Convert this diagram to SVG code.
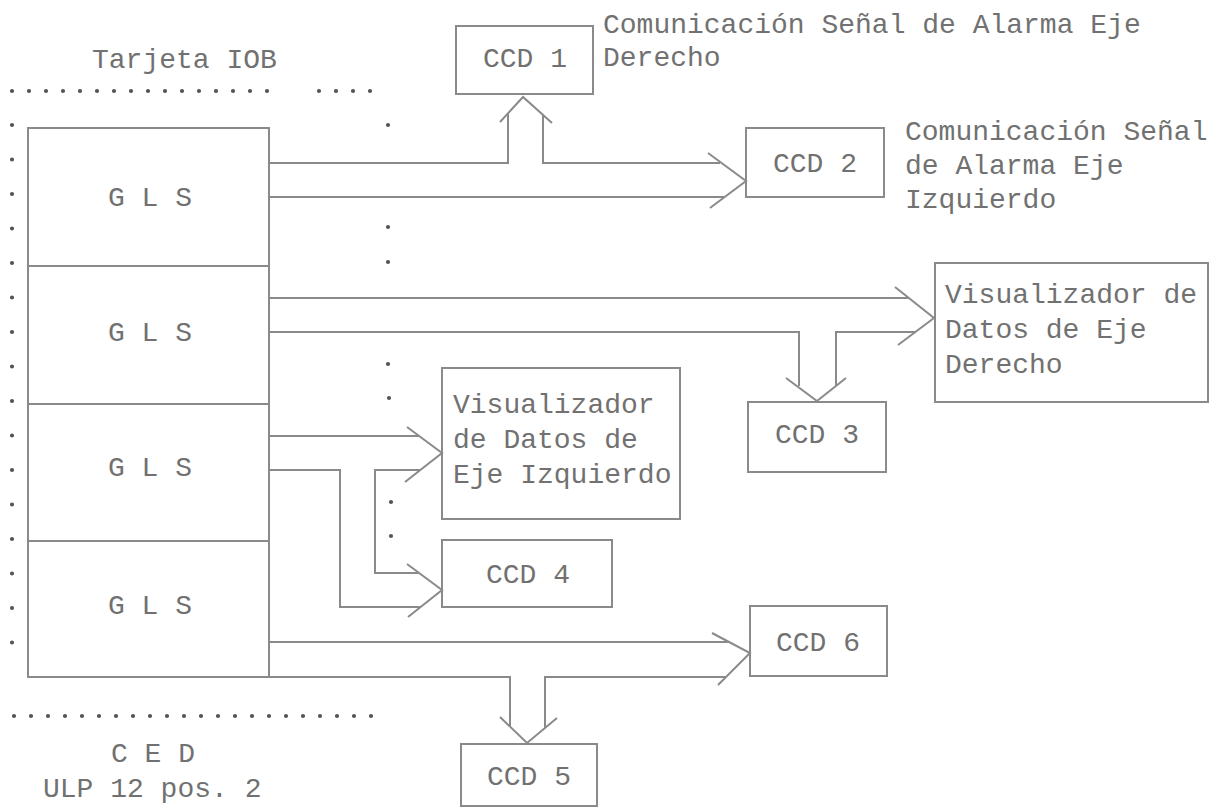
<svg xmlns="http://www.w3.org/2000/svg" width="1221" height="812" viewBox="0 0 1221 812">
<style>
.bg{fill:#ffffff}
.box{fill:none;stroke:#8a8a8a;stroke-width:2}
.ln{fill:none;stroke:#8a8a8a;stroke-width:2;stroke-linejoin:miter}
.hd{fill:none;stroke:#8a8a8a;stroke-width:2;stroke-linejoin:miter}
.t{font-family:"Liberation Mono","DejaVu Sans Mono",monospace;font-size:28px;fill:#717171}
.m{text-anchor:middle}
.dots{stroke:#555555;stroke-width:4.2;stroke-linecap:round;fill:none}
.dot{fill:#555555}
</style>
<rect class="bg" x="0" y="0" width="1221" height="812"/>

<g id="frame-dots">
  <line class="dots" x1="12" y1="91" x2="284" y2="91" stroke-dasharray="0 17"/>
  <line class="dots" x1="319" y1="91" x2="387" y2="91" stroke-dasharray="0 17"/>
  <line class="dots" x1="12" y1="125" x2="12" y2="677" stroke-dasharray="0 34.5"/>
  <line class="dots" x1="14" y1="716" x2="388" y2="716" stroke-dasharray="0 17"/>
  <circle class="dot" cx="388" cy="125" r="2.1"/>
  <circle class="dot" cx="388" cy="227" r="2.1"/>
  <circle class="dot" cx="388" cy="262" r="2.1"/>
  <circle class="dot" cx="388" cy="364" r="2.1"/>
  <circle class="dot" cx="389" cy="398" r="2.1"/>
  <circle class="dot" cx="391" cy="502" r="2.1"/>
  <circle class="dot" cx="391" cy="536" r="2.1"/>
</g>

<g id="labels">
  <text class="t" x="92" y="68">Tarjeta IOB</text>
  <text class="t" x="111" y="762">C E D</text>
  <text class="t" x="43" y="797">ULP 12 pos. 2</text>
  <text class="t" x="603" y="33">Comunicación Señal de Alarma Eje</text>
  <text class="t" x="603" y="66">Derecho</text>
  <text class="t" x="905" y="140">Comunicación Señal</text>
  <text class="t" x="905" y="174">de Alarma Eje</text>
  <text class="t" x="905" y="208">Izquierdo</text>
</g>

<g id="gls1"><rect class="box" x="28" y="128" width="241" height="138"/><text class="t m" x="150" y="206">G L S</text></g>
<g id="gls2"><rect class="box" x="28" y="266" width="241" height="138"/><text class="t m" x="150" y="341">G L S</text></g>
<g id="gls3"><rect class="box" x="28" y="404" width="241" height="137"/><text class="t m" x="150" y="476">G L S</text></g>
<g id="gls4"><rect class="box" x="28" y="541" width="241" height="136"/><text class="t m" x="150" y="614">G L S</text></g>

<g id="ccd1"><rect class="box" x="456" y="26" width="137" height="68"/><text class="t m" x="525" y="67">CCD 1</text></g>
<g id="ccd2"><rect class="box" x="746" y="128" width="138" height="69"/><text class="t m" x="815" y="172">CCD 2</text></g>
<g id="visder"><rect class="box" x="935" y="263" width="273" height="139"/>
  <text class="t" x="945" y="303">Visualizador de</text>
  <text class="t" x="945" y="338">Datos de Eje</text>
  <text class="t" x="945" y="373">Derecho</text></g>
<g id="ccd3"><rect class="box" x="748" y="402" width="138" height="70"/><text class="t m" x="817" y="443">CCD 3</text></g>
<g id="visizq"><rect class="box" x="442" y="368" width="238" height="151"/>
  <text class="t" x="453" y="413">Visualizador</text>
  <text class="t" x="453" y="448">de Datos de</text>
  <text class="t" x="453" y="483">Eje Izquierdo</text></g>
<g id="ccd4"><rect class="box" x="442" y="540" width="170" height="67"/><text class="t m" x="528" y="583">CCD 4</text></g>
<g id="ccd6"><rect class="box" x="750" y="606" width="137" height="70"/><text class="t m" x="818" y="651">CCD 6</text></g>
<g id="ccd5"><rect class="box" x="461" y="744" width="136" height="62"/><text class="t m" x="529" y="785">CCD 5</text></g>

<g id="connectors">
  <path class="ln" d="M269 163 H508 V113"/>
  <path class="ln" d="M543 114 V163 H720"/>
  <path class="ln" d="M269 197 H724"/>
  <path class="hd" d="M500 122 L523 97 L552 123"/>
  <path class="hd" d="M708 153 L746 181 L710 208"/>

  <path class="ln" d="M269 298 H908"/>
  <path class="ln" d="M269 332 H799 V386"/>
  <path class="ln" d="M836 386 V332 H916"/>
  <path class="hd" d="M895 287 L934 318 L898 345"/>
  <path class="hd" d="M786 378 L817 401 L846 378"/>

  <path class="ln" d="M269 436 H419"/>
  <path class="ln" d="M269 470 H340 V607 H421"/>
  <path class="ln" d="M420 470 H375 V573 H419"/>
  <path class="hd" d="M407 427 L442 453 L405 482"/>
  <path class="hd" d="M407 564 L442 590 L408 617"/>

  <path class="ln" d="M269 642 H729"/>
  <path class="ln" d="M269 677 H510 V727"/>
  <path class="ln" d="M545 728 V677 H726"/>
  <path class="hd" d="M712 633 L750 653 L718 685"/>
  <path class="hd" d="M500 717 L527 743 L557 718"/>
</g>
</svg>
